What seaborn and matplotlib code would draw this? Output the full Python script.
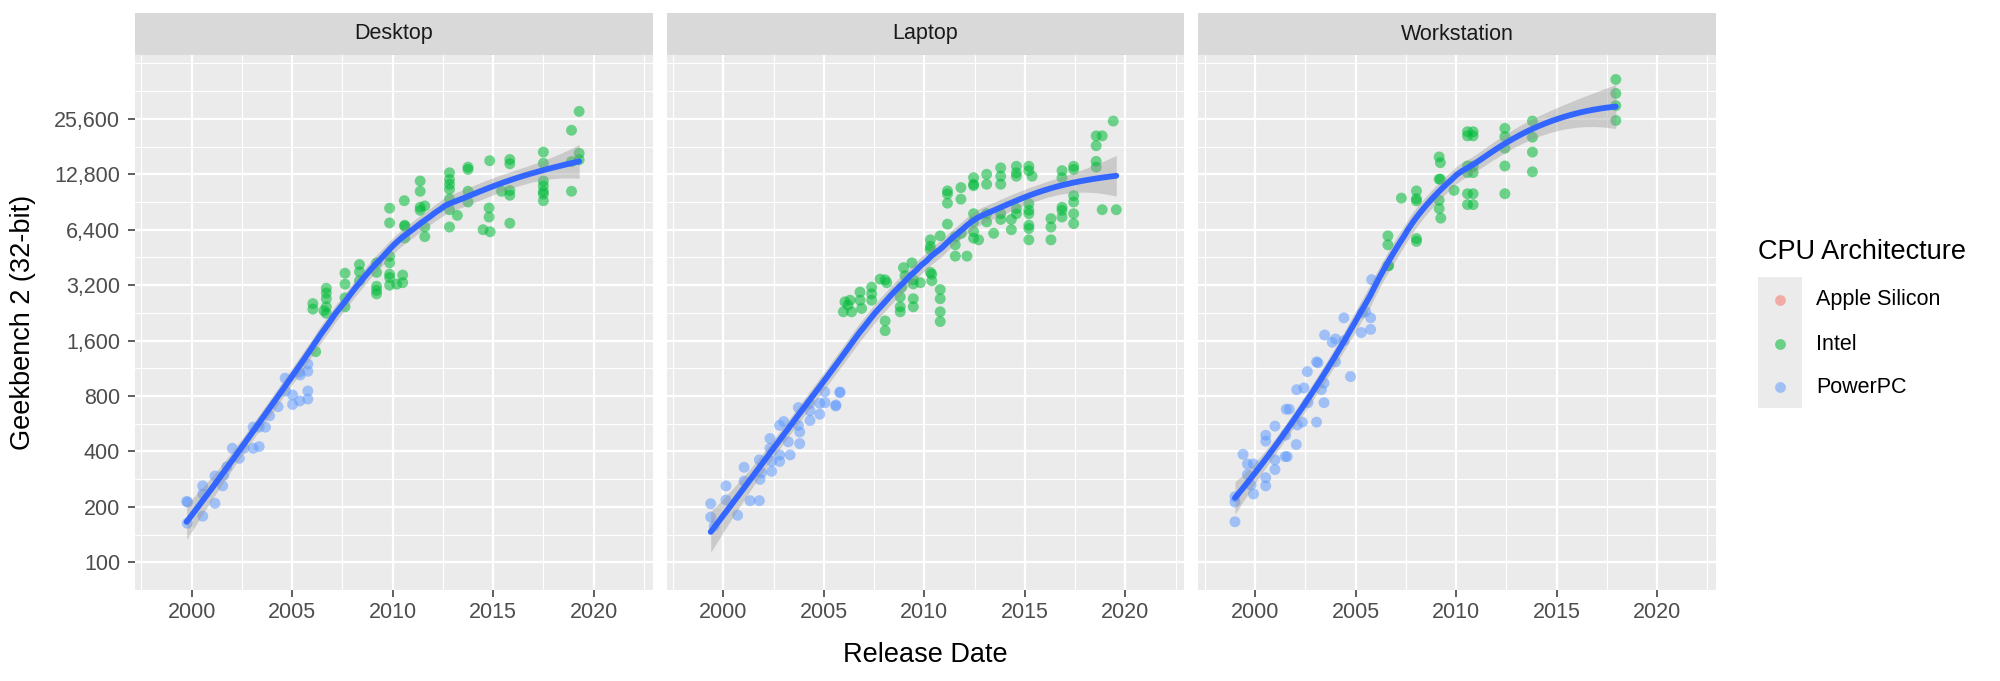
import numpy as np
import pandas as pd
import matplotlib
matplotlib.use("Agg")
import matplotlib.pyplot as plt
import seaborn as sns
from matplotlib.lines import Line2D
from matplotlib.patches import Rectangle
from matplotlib.ticker import NullFormatter

# Dados (ano decimal de lançamento, pontuação Geekbench 2)
desktop_ppc_year = [1999.75, 1999.78, 1999.8, 2000.55, 2000.55, 2000.55, 2001.16, 2001.16, 2001.54,
                    2001.6, 2001.75, 2002.02, 2002.37, 2002.6, 2003.06, 2003.36, 2003.06, 2003.36,
                    2003.67, 2003.88, 2004.3, 2004.65, 2004.67, 2005.02, 2005.02, 2005.38, 2005.37,
                    2005.4, 2005.78, 2005.78, 2005.78, 2005.78]
desktop_ppc_score = [214, 163, 212, 260, 235, 178, 294, 209, 260,
                     297, 330, 416, 367, 416, 416, 425, 542, 542,
                     542, 625, 700, 1000, 850, 810, 720, 752, 1078,
                     1040, 1192, 1090, 852, 770]

desktop_intel_year = [2006.17, 2006.03, 2006.03, 2006.58, 2006.7, 2006.7, 2006.7, 2006.7, 2006.7,
                      2007.63, 2007.63, 2007.63, 2007.63, 2008.35, 2008.35, 2008.35,
                      2009.2, 2009.2, 2009.2, 2009.2, 2009.2,
                      2009.85, 2009.85, 2009.85, 2009.85, 2009.85, 2009.85, 2009.85,
                      2010.2, 2010.5, 2010.5, 2010.58, 2010.6, 2010.6, 2010.6,
                      2011.37, 2011.37, 2011.37, 2011.37, 2011.6, 2011.6, 2011.6,
                      2012.83, 2012.83, 2012.83, 2012.83, 2012.83, 2012.83, 2012.83, 2013.22,
                      2013.75, 2013.75, 2013.75, 2013.75, 2014.5, 2014.85, 2014.83, 2014.8, 2014.8,
                      2015.42, 2015.83, 2015.83, 2015.83, 2015.83, 2015.83,
                      2017.5, 2017.5, 2017.5, 2017.5, 2017.5, 2017.5, 2017.5,
                      2018.9, 2018.9, 2018.9, 2019.28, 2019.28, 2019.28]
desktop_intel_score = [1393, 2540, 2372, 2323, 3077, 2900, 2700, 2440, 2250,
                       3715, 3240, 2730, 2440, 4140, 3780, 3380,
                       4230, 3755, 3155, 2870, 3000,
                       4600, 4230, 3670, 3520, 3200, 8380, 6970,
                       3240, 3630, 3300, 9200, 6770, 6680, 5770,
                       11770, 10350, 8480, 8160, 8620, 6620, 5870,
                       13050, 12000, 11300, 10620, 9390, 8220, 6620, 7660,
                       14000, 13600, 10350, 9050, 6400, 6240, 15170, 8400, 7500,
                       10350, 15400, 14600, 10450, 9850, 6940,
                       16900, 14700, 11770, 11070, 10350, 10000, 9200,
                       22200, 15000, 10350, 28100, 16650, 15350]

laptop_ppc_year = [1999.37, 1999.37, 1999.54, 2000.13, 2000.13, 2000.71, 2001.03, 2001.03, 2001.33,
                   2001.79, 2001.79, 2001.82, 2001.9, 2002.32, 2002.32, 2002.4, 2002.4, 2002.8,
                   2003.0, 2002.8, 2002.8, 2003.23, 2003.32, 2003.73, 2003.8, 2003.8, 2003.73,
                   2004.31, 2004.31, 2004.3, 2004.8, 2004.8, 2005.06, 2005.05, 2005.59, 2005.6,
                   2005.8, 2005.8]
laptop_ppc_score = [208, 176, 157, 260, 218, 180, 328, 276, 216,
                    216, 360, 282, 306, 470, 416, 312, 353, 554,
                    581, 383, 353, 451, 383, 554, 510, 441, 692,
                    664, 589, 730, 637, 730, 736, 842, 706, 715,
                    834, 842]

laptop_intel_year = [2005.97, 2006.05, 2006.2, 2006.38, 2006.3, 2006.8, 2006.8, 2006.88,
                     2007.38, 2007.38, 2007.38, 2007.8, 2008.05, 2008.13, 2008.05, 2008.05,
                     2008.8, 2008.8, 2008.8, 2008.87, 2008.96, 2009.04, 2009.38,
                     2009.45, 2009.45, 2009.45, 2009.45, 2009.8, 2010.3, 2010.3, 2010.3,
                     2010.29, 2010.37, 2010.37, 2010.79, 2010.79, 2010.79, 2010.79, 2010.79,
                     2011.15, 2011.15, 2011.15, 2011.15, 2011.54, 2011.54, 2011.54, 2011.84,
                     2011.82, 2011.82, 2012.12, 2012.45, 2012.45, 2012.45, 2012.45, 2012.45,
                     2012.45, 2012.45, 2012.7, 2013.1, 2013.1, 2013.1, 2013.1, 2013.45,
                     2013.8, 2013.8, 2013.8, 2013.8, 2013.8, 2014.33, 2014.33,
                     2014.58, 2014.58, 2014.58, 2014.58, 2014.58,
                     2015.2, 2015.2, 2015.36, 2015.2, 2015.2, 2015.2, 2015.2, 2015.2, 2015.2,
                     2016.3, 2016.3, 2016.3, 2016.85, 2016.85, 2016.85, 2016.85, 2016.85,
                     2017.43, 2017.43, 2017.43, 2017.43, 2017.43, 2017.43,
                     2018.55, 2018.55, 2018.55, 2018.55, 2018.85, 2019.4, 2018.85, 2019.55]
laptop_intel_score = [2293, 2597, 2490, 2293, 2650, 2935, 2650, 2390,
                      3120, 2870, 2650, 3450, 3420, 3300, 2045, 1810,
                      2760, 2440, 2293, 3120, 3980, 3600, 4230,
                      3420, 3250, 2700, 2440, 3300, 5640, 5200, 3755,
                      4990, 3670, 3380, 3030, 2700, 2293, 2030, 5930,
                      10400, 10000, 8920, 6860, 5870, 5300, 4600, 6120,
                      10840, 9380, 4600, 12270, 11300, 11100, 7820, 7060,
                      6250, 5760, 5640, 12800, 11300, 7820, 7060, 6120,
                      13870, 12500, 11300, 7820, 7280, 7280, 6400,
                      14150, 13050, 12500, 8330, 7820,
                      14150, 13400, 12500, 8860, 8170, 7820, 6770, 6500, 5640,
                      7350, 6620, 5640, 13400, 12270, 8480, 8160, 7500,
                      14150, 13600, 9800, 9050, 7820, 6910,
                      15050, 14000, 20700, 18300, 20700, 24900, 8220, 8220]

workstation_ppc_year = [1999.0, 1999.0, 1999.0, 1999.4, 1999.62, 1999.92, 1999.62, 1999.8, 1999.92,
                        2000.53, 2000.53, 2000.53, 2000.53, 2000.99, 2000.99, 2000.99, 2001.52,
                        2001.6, 2001.5, 2002.05, 2001.55, 2001.7, 2002.07, 2002.43, 2002.1,
                        2002.35, 2002.63, 2003.06, 2002.6, 2003.06, 2003.13, 2003.43, 2003.3,
                        2003.43, 2003.46, 2003.84, 2004.0, 2004.0, 2004.42, 2004.42, 2004.75,
                        2005.28, 2005.33, 2005.75, 2005.75, 2005.5, 2005.8]
workstation_ppc_score = [166, 227, 212, 386, 342, 342, 300, 263, 235,
                         490, 455, 288, 260, 549, 360, 319, 490,
                         375, 375, 436, 678, 678, 866, 885, 557,
                         577, 736, 577, 1085, 1226, 1212, 940, 866,
                         736, 1715, 1567, 1633, 1226, 2126, 1600, 1020,
                         1770, 2263, 2126, 1840, 2300, 3430]

workstation_intel_year = [2006.61, 2006.61, 2006.61, 2006.65, 2007.28, 2008.03, 2008.03, 2008.03,
                          2008.03, 2008.03, 2009.16, 2009.22, 2009.16, 2009.22, 2009.16, 2009.16,
                          2009.24, 2009.9, 2010.57, 2010.85, 2010.57, 2010.85, 2010.57, 2010.85,
                          2010.57, 2010.85, 2010.57, 2010.85, 2010.57, 2010.85,
                          2012.43, 2012.43, 2012.43, 2012.43, 2012.43,
                          2013.8, 2013.8, 2013.8, 2013.8, 2017.95, 2017.95, 2017.95, 2017.95]
workstation_intel_score = [5930, 5300, 4080, 4080, 9500, 10400, 9430, 9180,
                           5730, 5530, 15900, 14800, 12040, 12040, 9250, 8340,
                           7400, 10470, 21800, 21800, 20700, 20700, 14200, 14200,
                           13070, 13070, 10040, 10040, 8760, 8760,
                           22750, 20500, 17730, 14200, 10040,
                           24900, 20360, 16900, 13200, 41900, 35200, 30200, 25100]

form_factors = ["Desktop", "Laptop", "Workstation"]
architectures = ["Apple Silicon", "Intel", "PowerPC"]
y_breaks = [100, 200, 400, 800, 1600, 3200, 6400, 12800, 25600]
x_breaks = [2000, 2005, 2010, 2015, 2020]

series = [
    ("Desktop", "PowerPC", desktop_ppc_year, desktop_ppc_score),
    ("Desktop", "Intel", desktop_intel_year, desktop_intel_score),
    ("Laptop", "PowerPC", laptop_ppc_year, laptop_ppc_score),
    ("Laptop", "Intel", laptop_intel_year, laptop_intel_score),
    ("Workstation", "PowerPC", workstation_ppc_year, workstation_ppc_score),
    ("Workstation", "Intel", workstation_intel_year, workstation_intel_score),
]
frames = [pd.DataFrame({"form": f, "arch": a, "year": yr, "score": sc}) for f, a, yr, sc in series]
df = pd.concat(frames, ignore_index=True)

palette = {"Apple Silicon": "#F8766D", "Intel": "#00BA38", "PowerPC": "#619CFF"}


# loess (grau 2, span 0.75) com erro padrão, como o geom_smooth do ggplot
def loess(x, y, grid, span=0.75):
    n = len(x)
    q = int(np.floor(n * span))

    def row(x0):
        d = np.abs(x - x0)
        h = np.sort(d)[q - 1]
        w = np.clip(1 - (d / h) ** 3, 0, None) ** 3
        X = np.column_stack([np.ones(n), x - x0, (x - x0) ** 2])
        XtW = X.T * w
        return np.linalg.solve(XtW @ X, XtW)[0]

    L = np.array([row(v) for v in x])
    resid = y - L @ y
    IL = np.eye(n) - L
    delta1 = np.trace(IL.T @ IL)
    sigma = np.sqrt(resid @ resid / delta1)
    R = np.array([row(g) for g in grid])
    return R @ y, sigma * np.sqrt((R ** 2).sum(axis=1))


sns.set_theme(style="darkgrid")
plt.rcParams["font.family"] = ["Liberation Sans", "DejaVu Sans"]

fig = plt.figure(figsize=(20, 6.81), dpi=100)
W, H = 2000.0, 681.0
panel_left = [135, 666.7, 1198.4]
panel_w = 517.7
top_px, bottom_px, strip_top = 55, 590, 13

small = 15.5
big = 19.5
minor_y = [100 * 2 ** (k / 2) for k in range(-1, 19)]
minor_x = [1997.5, 2002.5, 2007.5, 2012.5, 2017.5, 2022.5]

for i, form in enumerate(form_factors):
    ax = fig.add_axes([panel_left[i] / W, 1 - bottom_px / H, panel_w / W, (bottom_px - top_px) / H])
    ax.set_facecolor("#EBEBEB")
    sub = df[df["form"] == form]
    sns.scatterplot(data=sub, x="year", y="score", hue="arch", hue_order=architectures,
                    palette=palette, s=62, alpha=0.55, linewidth=0, legend=False,
                    ax=ax, zorder=3)
    ax.set_yscale("log", base=2)

    xs = sub["year"].to_numpy() - 2010
    ys = np.log2(sub["score"].to_numpy())
    grid = np.linspace(xs.min(), xs.max(), 80)
    fit, se = loess(xs, ys, grid)
    ax.fill_between(grid + 2010, 2 ** (fit - 1.98 * se), 2 ** (fit + 1.98 * se),
                    color="#999999", alpha=0.4, linewidth=0, zorder=4)
    sns.lineplot(x=grid + 2010, y=2 ** fit, color="#3366FF", linewidth=4.2, ax=ax, zorder=5)

    ax.set_xlim(1997.18, 2022.94)
    ax.set_ylim(81.2, 56900)
    ax.set_xticks(x_breaks)
    ax.set_xticks(minor_x, minor=True)
    ax.set_yticks(y_breaks)
    ax.set_yticks(minor_y, minor=True)
    ax.yaxis.set_minor_formatter(NullFormatter())
    ax.set_xticklabels([str(v) for v in x_breaks])
    ax.set_yticklabels([f"{v:,}" for v in y_breaks])
    ax.grid(which="major", color="white", linewidth=1.6)
    ax.grid(which="minor", color="white", linewidth=0.8)
    ax.set_axisbelow(True)
    for s in ax.spines.values():
        s.set_visible(False)
    ax.tick_params(which="major", length=4.8, width=1.1, color="#333333",
                   labelsize=small, labelcolor="#4D4D4D", pad=4)
    ax.tick_params(which="minor", length=0)
    ax.tick_params(axis="y", pad=6)
    if i > 0:
        ax.tick_params(axis="y", left=False, labelleft=False)
    else:
        ax.tick_params(axis="y", left=True)
    ax.tick_params(axis="x", bottom=True)
    ax.set_xlabel("")
    ax.set_ylabel("")

    # faixa com o nome da faceta
    sax = fig.add_axes([panel_left[i] / W, 1 - top_px / H, panel_w / W, (top_px - strip_top) / H])
    sax.set_facecolor("#D9D9D9")
    sax.set_xticks([])
    sax.set_yticks([])
    sax.grid(False)
    for s in sax.spines.values():
        s.set_visible(False)
    sax.text(0.5, 0.5, form, ha="center", va="center", fontsize=small, color="#1A1A1A",
             transform=sax.transAxes)

fig.text((135 + 1716) / 2 / W, 1 - 655 / H, "Release Date", ha="center", va="center",
         fontsize=big, color="black")
fig.text(23 / W, 1 - 322.5 / H, "Geekbench 2 (32-bit)", ha="center", va="center",
         rotation=90, fontsize=big, color="black")

# legenda
fig.text(1758 / W, 1 - 251.7 / H, "CPU Architecture", ha="left", va="center",
         fontsize=big, color="black")
fig.patches.append(Rectangle((1758 / W, 1 - 408 / H), 44 / W, 131 / H,
                             transform=fig.transFigure, facecolor="#EBEBEB",
                             edgecolor="none", zorder=1))
for arch, yc in zip(architectures, [300, 344, 387.3]):
    fig.lines.append(Line2D([1780 / W], [1 - yc / H], transform=fig.transFigure,
                            marker="o", markersize=7.8, linestyle="none",
                            markerfacecolor=palette[arch], markeredgewidth=0,
                            alpha=0.55, zorder=2))
    fig.text(1816 / W, 1 - yc / H, arch, ha="left", va="center", fontsize=small, color="black")

fig.savefig("out.png", dpi=100, facecolor="white")
